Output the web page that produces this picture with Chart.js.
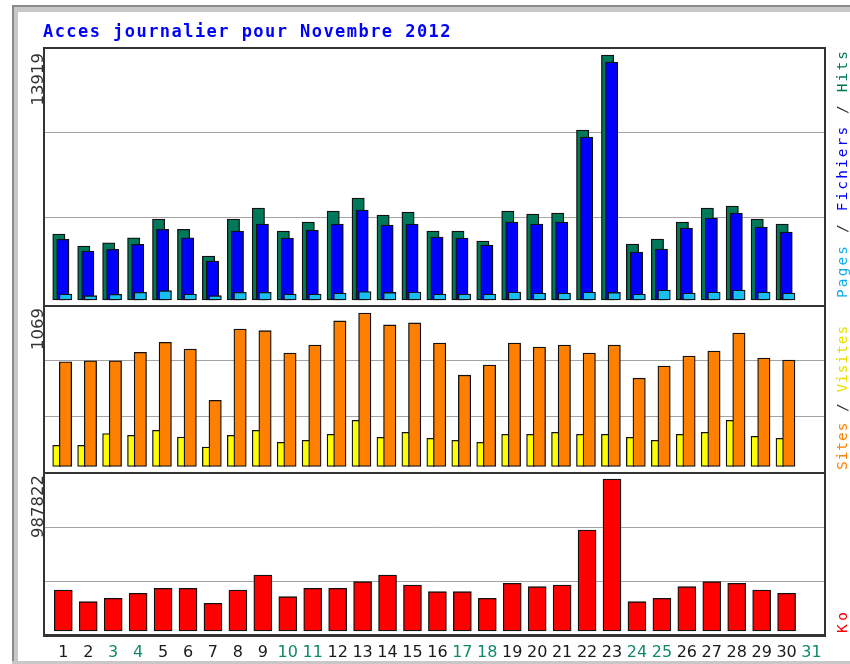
<!DOCTYPE html>
<html>
<head>
<meta charset="utf-8">
<title>Acces journalier pour Novembre 2012</title>
<script src="https://cdn.jsdelivr.net/npm/chart.js@4.4.1/dist/chart.umd.min.js"></script>
<style>
  html, body { margin:0; padding:0; background:#fff; }
  #wrap { position:relative; width:850px; height:664px; overflow:hidden; background:#fff; }
  #wrap canvas { position:absolute; left:0; z-index:1; }
  .b { position:absolute; z-index:0; }
  .f { position:absolute; z-index:2; background:#333; }
  #title { position:absolute; left:43px; top:21px; z-index:3; font:bold 17px/20px "DejaVu Sans Mono", monospace; letter-spacing:1.45px; color:#0000ff; white-space:nowrap; }
</style>
</head>
<body>
<div id="wrap">
  <div class="b" style="left:12px;top:5px;width:838px;height:2px;background:#8a8a8a"></div>
  <div class="b" style="left:12px;top:7px;width:838px;height:5px;background:#c8c8c8"></div>
  <div class="b" style="left:12px;top:5px;width:2px;height:659px;background:#8a8a8a"></div>
  <div class="b" style="left:14px;top:7px;width:4px;height:657px;background:#c8c8c8"></div>
  <div class="b" style="left:12px;top:661px;width:838px;height:3px;background:#c8c8c8"></div>
  <div id="title">Acces journalier pour Novembre 2012</div>
  <canvas id="c1" width="850" height="270" style="top:40px"></canvas>
  <canvas id="c2" width="850" height="176" style="top:300px"></canvas>
  <canvas id="c3" width="850" height="196" style="top:468px"></canvas>
  <div class="f" style="left:43px;top:47px;width:2px;height:590px"></div>
  <div class="f" style="left:824px;top:47px;width:2px;height:590px"></div>
  <div class="f" style="left:43px;top:47px;width:783px;height:2px"></div>
  <div class="f" style="left:43px;top:305px;width:783px;height:2px"></div>
  <div class="f" style="left:43px;top:472px;width:783px;height:2px"></div>
  <div class="f" style="left:43px;top:634px;width:783px;height:3px"></div>
</div>
<script>
// ---- data ----
const days = [1,2,3,4,5,6,7,8,9,10,11,12,13,14,15,16,17,18,19,20,21,22,23,24,25,26,27,28,29,30,31];
const weekendDays = [3,4,10,11,17,18,24,25,31];
const hits = [3750,3068,3255,3539,4602,4016,2500,4602,5227,3920,4431,5056,5795,4829,4999,3920,3920,3352,5056,4886,4943,9658,13919,3181,3465,4431,5227,5340,4602,4318];
const fichiers = [3448,2784,2880,3164,4016,3539,2216,3920,4318,3522,3977,4318,5113,4261,4318,3579,3522,3125,4431,4318,4431,9260,13521,2727,2897,4090,4658,4942,4147,3863];
const pages = [340,245,320,437,530,340,245,437,437,340,340,400,480,430,455,340,340,340,455,400,400,455,430,340,570,400,455,570,455,400];
const visites = [147,147,229,217,252,205,135,217,252,168,182,224,322,203,238,196,182,168,224,224,238,224,224,203,182,224,238,322,210,196];
const sites = [729,736,736,795,865,818,461,958,946,790,846,1014,1069,986,1000,860,636,706,860,832,846,790,846,615,699,769,804,930,755,741];
const ko = [266500,190400,212500,245000,277500,277500,180000,266500,364000,223000,277500,277500,320400,364000,299000,255400,255400,212500,310000,288000,299000,656400,987822,190400,212500,288000,320400,310000,266500,245000];
const maxLabels = ['13919', '1069', '987822'];

// ---- scale settings ----
const X_MIN = 0.186, X_MAX = 31.58;
const Y1 = [-170, 14373], Y2 = [-35, 1125], Y3 = [-32494, 1026810];

function bars(values, offset, color, width, order) {
  return {
    data: values.map((v, i) => ({ x: days[i] + offset, y: v })),
    backgroundColor: color, borderColor: '#111', borderWidth: 1.3, borderSkipped: false,
    barThickness: width, grouped: false, order: order
  };
}

const extras = {
  id: 'extras',
  afterDatasetsDraw(chart, args, o) {
    const { ctx, chartArea, scales } = chart;
    // rotated max value label at left
    ctx.save();
    const y = scales.y.getPixelForValue(o.maxVal) - o.maxGap;
    ctx.translate(chartArea.left - 0.5, y);
    ctx.rotate(-Math.PI / 2);
    ctx.font = '16.5px "DejaVu Sans"';
    ctx.fillStyle = '#333';
    ctx.textAlign = 'right';
    ctx.textBaseline = 'alphabetic';
    ctx.fillText(o.maxText, 0, 0);
    ctx.restore();
    // rotated legend at right (start measured from bottom of chart area)
    ctx.save();
    ctx.translate(chartArea.right + 20.5, chartArea.bottom - o.rightUp);
    ctx.rotate(-Math.PI / 2);
    ctx.font = '14.5px "DejaVu Sans Mono"';
    ctx.textAlign = 'left';
    ctx.textBaseline = 'alphabetic';
    let x = 0;
    for (const [txt, col] of o.parts) {
      ctx.fillStyle = col;
      for (const ch of txt) {
        ctx.fillText(ch, x, 0);
        x += ctx.measureText(ch).width + o.ls;
      }
    }
    ctx.restore();
  }
};

function makeChart(id, datasets, yr, pad, extra, showX) {
  return new Chart(document.getElementById(id), {
    type: 'bar',
    data: { datasets },
    options: {
      responsive: false, animation: false, events: [],
      layout: { padding: pad },
      plugins: { legend: { display: false }, tooltip: { enabled: false }, title: { display: false }, extras: extra },
      scales: {
        x: {
          type: 'linear', min: X_MIN, max: X_MAX, offset: false, display: showX,
          grid: { display: false, drawTicks: false }, border: { display: false },
          ticks: {
            autoSkip: false, maxRotation: 0, padding: 7,
            font: { family: 'DejaVu Sans', size: 16 },
            color: c => weekendDays.includes(c.tick.value) ? '#11896a' : '#1a1a1a',
            callback: v => String(v)
          },
          afterBuildTicks: s => { s.ticks = days.map(v => ({ value: v })); },
          afterFit: s => { s.height = showX ? 24 : 0; s.paddingLeft = 0; s.paddingRight = 0; }
        },
        y: {
          type: 'linear', min: yr[0], max: yr[1], display: true,
          ticks: { display: false }, grid: { color: '#a4a4a4', lineWidth: 1, drawTicks: false },
          border: { display: false },
          afterBuildTicks: s => { s.ticks = [1, 2].map(k => ({ value: yr[0] + (yr[1] - yr[0]) * k / 3 })); },
          afterFit: s => { s.width = 0; }
        }
      }
    },
    plugins: [extras]
  });
}

makeChart('c1', [
  bars(hits, -0.178, '#00785a', 12.3, 3),
  bars(fichiers, -0.018, '#0000ff', 12.3, 2),
  bars(pages, 0.088, '#18bff0', 12.5, 1)
], Y1, { left: 43, right: 24, top: 7, bottom: 7 },
  { maxVal: 13919, maxGap: 2, maxText: maxLabels[0], rightUp: 5, ls: 2.1,
    parts: [['Pages', '#10aaee'], [' / ', '#333'], ['Fichiers', '#0000ff'], [' / ', '#333'], ['Hits', '#00785a']] }, false);

makeChart('c2', [
  bars(visites, -0.265, '#ffff00', 8, 2),
  bars(sites, 0.088, '#ff8000', 12.4, 1)
], Y2, { left: 43, right: 24, top: 5, bottom: 4.5 },
  { maxVal: 1069, maxGap: 5, maxText: maxLabels[1], rightUp: 1.5, ls: 0.95,
    parts: [['Sites', '#ff8000'], [' / ', '#333'], ['Visites', '#e8e000']] }, false);

makeChart('c3', [
  bars(ko, 0, '#ff0000', 18, 1)
], Y3, { left: 43, right: 24, top: 5, bottom: 4 },
  { maxVal: 987822, maxGap: 4, maxText: maxLabels[2], rightUp: 3, ls: 3.5,
    parts: [['Ko', '#ff0000']] }, true);
</script>
</body>
</html>
